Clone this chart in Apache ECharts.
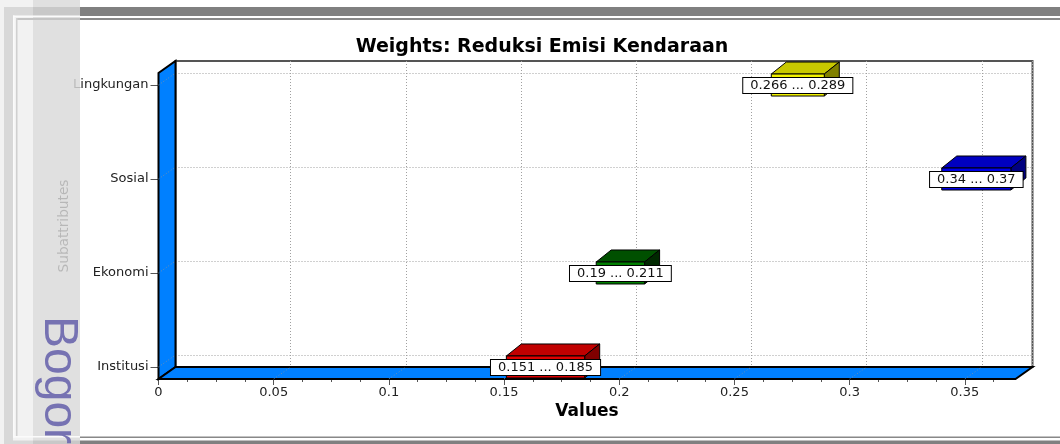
<!DOCTYPE html>
<html><head><meta charset="utf-8">
<script src="https://cdn.jsdelivr.net/npm/echarts@6/dist/echarts.min.js"></script>
<style>html,body{margin:0;padding:0;background:#fff}#c{width:1060px;height:444px}</style>
</head><body><div id="c"></div>
<script>
// ---- data ----
const categories = ['Lingkungan', 'Sosial', 'Ekonomi', 'Institusi'];
const lowValues  = [0.266, 0.34, 0.19, 0.151];
const highValues = [0.289, 0.37, 0.211, 0.185];
const xTickValues = [0, 0.05, 0.1, 0.15, 0.2, 0.25, 0.3, 0.35];
const xMinorTickValues = [0.0125, 0.025, 0.0375, 0.0625, 0.075, 0.0875, 0.1125, 0.125, 0.1375,
  0.1625, 0.175, 0.1875, 0.2125, 0.225, 0.2375, 0.2625, 0.275, 0.2875, 0.3125, 0.325, 0.3375, 0.3625];
const yTickValues = [0, 1, 2, 3];
const titleText = 'Weights: Reduksi Emisi Kendaraan';
const xAxisName = 'Values';
const yAxisName = 'Subattributes';

// ---- style ----
const X_MAX = 0.372, Y_MIN = -0.128, Y_MAX = 3.128;
const DX = 17, DY = 12;          // wall depth
const BDX = 15, BDY = 12, BOX_H = 22; // box depth / height
const barColors = [
  {front: '#f2f200', top: '#c8c800', side: '#808000'},
  {front: '#0000e8', top: '#0000c0', side: '#000080'},
  {front: '#008000', top: '#005000', side: '#002800'},
  {front: '#e00000', top: '#c00000', side: '#800000'}
];
const FONT = '"DejaVu Sans", sans-serif';
const dotted = {color: '#a0a0a0', type: [1, 2], width: 1};

const chart = echarts.init(document.getElementById('c'), null, {renderer: 'canvas'});

const hidden = {axisLine: {show: false, onZero: false}, axisTick: {show: false}, axisLabel: {show: false}, splitLine: {show: false}};

const option = {
  backgroundColor: '#fff',
  animation: false,
  title: {
    text: titleText, left: 537, top: 33, textAlign: 'center',
    textStyle: {fontFamily: FONT, fontWeight: 'bold', fontSize: 19, color: '#000'}
  },
  grid: [
    {left: 158.5, right: 44.5, top: 73, bottom: 65},
    {left: 175.5, right: 27.5, top: 61, bottom: 77, show: true, borderColor: '#555', borderWidth: 2, backgroundColor: 'transparent'},
    {left: 175.5, right: 27.5, top: 73, bottom: 89}
  ],
  xAxis: [
    {type: 'value', gridIndex: 0, position: 'bottom', min: 0, max: X_MAX,
     axisLine: {show: false, onZero: false}, splitLine: {show: false},
     axisTick: {show: true, customValues: xTickValues, length: 6, lineStyle: {color: '#555'}},
     axisLabel: {customValues: xTickValues, fontFamily: FONT, fontSize: 13, color: '#222', margin: 7},
     name: xAxisName, nameLocation: 'middle', nameGap: 24, nameMoveOverlap: false,
     nameTextStyle: {fontFamily: FONT, fontWeight: 'bold', fontSize: 17, color: '#000'}},
    Object.assign({type: 'value', gridIndex: 0, position: 'bottom', min: 0, max: X_MAX}, hidden,
     {axisTick: {show: true, customValues: xMinorTickValues, length: 3, lineStyle: {color: '#555'}}}),
    Object.assign({type: 'value', gridIndex: 1, position: 'bottom', min: 0, max: X_MAX, interval: 0.05}, hidden,
     {splitLine: {show: true, lineStyle: dotted}}),
    Object.assign({type: 'value', gridIndex: 2, position: 'bottom', min: 0, max: X_MAX}, hidden)
  ],
  yAxis: [
    {type: 'value', gridIndex: 0, position: 'left', min: Y_MIN, max: Y_MAX, inverse: true,
     axisLine: {show: false, onZero: false}, splitLine: {show: false},
     axisTick: {show: true, customValues: yTickValues, length: 8, lineStyle: {color: '#555'}},
     axisLabel: {customValues: yTickValues, formatter: v => categories[Math.round(v)] || '',
                 fontFamily: FONT, fontSize: 13, color: '#222', margin: 10},
     name: yAxisName, nameLocation: 'middle', nameRotate: 90, nameGap: 87, nameMoveOverlap: false,
     nameTextStyle: {fontFamily: FONT, fontSize: 13.7, color: '#111'}},
    Object.assign({type: 'value', gridIndex: 1, position: 'left', min: 0, max: 1}, hidden),
    Object.assign({type: 'value', gridIndex: 2, position: 'left', min: 0, max: 3, interval: 1, inverse: true}, hidden,
     {splitLine: {show: true, lineStyle: dotted}})
  ],
  series: [
    {
      type: 'custom', xAxisIndex: 0, yAxisIndex: 0, clip: false, z: 3, silent: true,
      data: [[0, Y_MIN]],
      renderItem: function (params, api) {
        const flt = api.coord([0, Y_MIN]);
        const flb = api.coord([0, Y_MAX]);
        const frb = api.coord([X_MAX, Y_MAX]);
        const back = p => [p[0] + DX, p[1] - DY];
        const children = [
          {type: 'polygon', shape: {points: [flt, flb, back(flb), back(flt)]},
           style: {fill: '#0080ff', stroke: '#000', lineWidth: 2, lineJoin: 'miter'}},
          {type: 'polygon', shape: {points: [flb, frb, back(frb), back(flb)]},
           style: {fill: '#0080ff', stroke: '#000', lineWidth: 2, lineJoin: 'miter'}}
        ];
        xTickValues.slice(1).forEach(t => {
          const p = api.coord([t, Y_MAX]);
          children.push({type: 'line', shape: {x1: p[0], y1: p[1], x2: p[0] + DX, y2: p[1] - DY},
            style: {stroke: '#7090b0', lineWidth: 1, lineDash: [1, 2]}});
        });
        yTickValues.forEach(v => {
          const p = api.coord([0, v]);
          children.push({type: 'line', shape: {x1: p[0], y1: p[1], x2: p[0] + DX, y2: p[1] - DY},
            style: {stroke: '#7090b0', lineWidth: 1, lineDash: [1, 2]}});
        });
        return {type: 'group', children: children};
      }
    },
    {
      type: 'custom', xAxisIndex: 0, yAxisIndex: 0, clip: false, z: 5,
      encode: {x: [0, 1], y: 2},
      data: categories.map((c, i) => [lowValues[i], highValues[i], i]),
      renderItem: function (params, api) {
        const lo = api.value(0), hi = api.value(1), ci = api.value(2);
        const p0 = api.coord([lo, ci]), p1 = api.coord([hi, ci]);
        const x0 = p0[0], x1 = p1[0], cy = p0[1];
        const top = cy - BOX_H / 2, bot = cy + BOX_H / 2;
        const c = barColors[ci];
        return {type: 'group', children: [
          {type: 'polygon', shape: {points: [[x0, top], [x1, top], [x1 + BDX, top - BDY], [x0 + BDX, top - BDY]]},
           style: {fill: c.top, stroke: '#000', lineWidth: 1}},
          {type: 'polygon', shape: {points: [[x1, top], [x1 + BDX, top - BDY], [x1 + BDX, bot - BDY], [x1, bot]]},
           style: {fill: c.side, stroke: '#000', lineWidth: 1}},
          {type: 'rect', shape: {x: x0, y: top, width: x1 - x0, height: BOX_H},
           style: {fill: c.front, stroke: '#000', lineWidth: 1}},
          {type: 'text', x: (x0 + x1) / 2, y: cy + 0.5, z2: 10,
           style: {text: lo + ' ... ' + hi, font: '13px ' + FONT, fill: '#111',
                   align: 'center', verticalAlign: 'middle',
                   backgroundColor: '#fff', borderColor: '#000', borderWidth: 1, padding: [1, 7]}}
        ]};
      }
    }
  ],
  graphic: [
    // top / bottom bands
    {type: 'rect', z: 100, shape: {x: 80, y: 7, width: 980, height: 9}, style: {fill: '#808080'}},
    {type: 'rect', z: 100, shape: {x: 80, y: 18, width: 980, height: 2}, style: {fill: '#888'}},
    {type: 'rect', z: 100, shape: {x: 80, y: 436.5, width: 980, height: 1.5}, style: {fill: '#888'}},
    {type: 'rect', z: 100, shape: {x: 80, y: 440.5, width: 980, height: 4}, style: {fill: '#808080'}},
    // left strip
    {type: 'rect', z: 100, shape: {x: 0, y: 0, width: 33, height: 444}, style: {fill: '#f2f2f2'}},
    {type: 'rect', z: 100, shape: {x: 33, y: 0, width: 47, height: 444}, style: {fill: 'rgba(218,218,218,0.83)'}},
    {type: 'rect', z: 100, shape: {x: 4, y: 7, width: 9, height: 437}, style: {fill: '#d8d8d8'}},
    {type: 'rect', z: 100, shape: {x: 4, y: 7, width: 29, height: 9}, style: {fill: '#d8d8d8'}},
    {type: 'rect', z: 100, shape: {x: 33, y: 7, width: 47, height: 9}, style: {fill: '#c8c8c8'}},
    {type: 'rect', z: 100, shape: {x: 4, y: 440.5, width: 29, height: 4}, style: {fill: '#d8d8d8'}},
    {type: 'rect', z: 100, shape: {x: 33, y: 440.5, width: 47, height: 4}, style: {fill: '#c8c8c8'}},
    {type: 'rect', z: 101, shape: {x: 13, y: 15.5, width: 67, height: 1.5}, style: {fill: '#fbfbfb'}},
    {type: 'rect', z: 101, shape: {x: 13, y: 15.5, width: 1.5, height: 422}, style: {fill: '#fbfbfb'}},
    {type: 'rect', z: 101, shape: {x: 13, y: 436, width: 67, height: 1.5}, style: {fill: '#fbfbfb'}},
    {type: 'rect', z: 101, shape: {x: 16, y: 18, width: 64, height: 2}, style: {fill: '#c4c4c4'}},
    {type: 'rect', z: 101, shape: {x: 16, y: 18, width: 1.5, height: 418}, style: {fill: '#d0d0d0'}},
    {type: 'text', z: 102, x: 58, y: 316, rotation: -Math.PI / 2,
     style: {text: 'Bogor', font: '48px "Liberation Sans", Arial, sans-serif', fill: '#7672b2',
             align: 'left', verticalAlign: 'middle'}}
  ]
};
chart.setOption(option);
</script>
</body></html>
